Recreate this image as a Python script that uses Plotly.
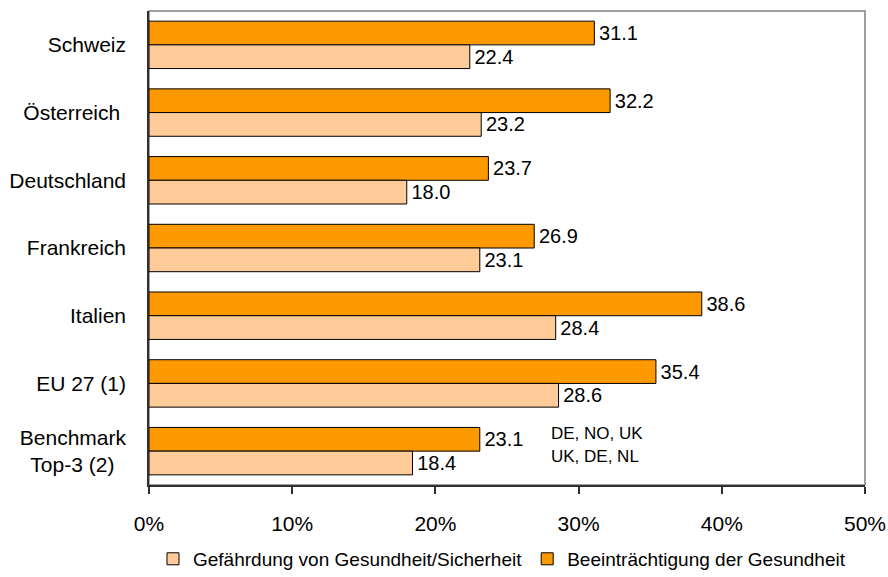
import plotly.graph_objects as go

categories = ["Schweiz", "Österreich\u00a0", "Deutschland", "Frankreich", "Italien", "EU 27 (1)", "Benchmark<br>Top-3 (2)\u00a0\u00a0"]
beeintraechtigung = [31.1, 32.2, 23.7, 26.9, 38.6, 35.4, 23.1]
gefaehrdung = [22.4, 23.2, 18.0, 23.1, 28.4, 28.6, 18.4]
series_names = ["Gefährdung von Gesundheit/Sicherheit", "Beeinträchtigung der Gesundheit"]
benchmark_notes = ["DE, NO, UK", "UK, DE, NL"]
x_ticks = [0, 10, 20, 30, 40, 50]
x_tick_labels = ["0%", "10%", "20%", "30%", "40%", "50%"]

FONT = "Liberation Sans, Arial, sans-serif"

fig = go.Figure()
fig.add_trace(go.Bar(
    y=categories, x=beeintraechtigung, orientation="h", name=series_names[1],
    marker=dict(color="#FF9900", line=dict(color="#000000", width=1)),
    text=beeintraechtigung, texttemplate="\u200a%{x:.1f}", textposition="outside",
    textfont=dict(size=20, color="#000000", family=FONT), constraintext="none",
    cliponaxis=False, legendrank=2,
))
fig.add_trace(go.Bar(
    y=categories, x=gefaehrdung, orientation="h", name=series_names[0],
    marker=dict(color="#FFCC99", line=dict(color="#000000", width=1)),
    text=gefaehrdung, texttemplate="\u200a%{x:.1f}", textposition="outside",
    textfont=dict(size=20, color="#000000", family=FONT), constraintext="none",
    cliponaxis=False, legendrank=1,
))

for note, shift in zip(benchmark_notes, [18, -5]):
    fig.add_annotation(x=27.93, y=categories[-1], xref="x", yref="y", text=note,
                       showarrow=False, xanchor="left", yanchor="middle", yshift=shift,
                       font=dict(size=17, color="#000000", family=FONT))

fig.add_shape(type="rect", xref="paper", yref="paper", x0=0, y0=0, x1=1, y1=1,
              line=dict(color="#808080", width=1.5), layer="below")

fig.update_layout(
    width=888, height=577,
    margin=dict(l=149, r=23, t=11, b=92, autoexpand=False),
    paper_bgcolor="white", plot_bgcolor="white",
    barmode="group", bargap=0.3, bargroupgap=0,
    font=dict(family=FONT, size=21, color="#000000"),
    showlegend=True,
    legend=dict(orientation="h", x=0.493, xanchor="center", y=-0.156, yanchor="middle",
                font=dict(size=19, family=FONT), traceorder="normal"),
    xaxis=dict(range=[0, 50], tickvals=x_ticks, ticktext=x_tick_labels, tickmode="array",
               showgrid=False, automargin=False,
               zeroline=False, showline=True, linecolor="#303030", linewidth=1.5,
               ticks="outside", ticklen=7, tickcolor="#303030", tickwidth=1.5,
               tickfont=dict(size=21, family=FONT), ticklabelstandoff=12),
    yaxis=dict(autorange="reversed", showgrid=False, zeroline=False, showline=True,
               automargin=False,
               linecolor="#303030", linewidth=1.5, ticks="", ticklabelstandoff=17,
               tickfont=dict(size=21, family=FONT)),
)

fig.write_html("out.html", config={"displayModeBar": False},
               post_script="document.body.style.margin='0';document.body.style.overflow='hidden';")
